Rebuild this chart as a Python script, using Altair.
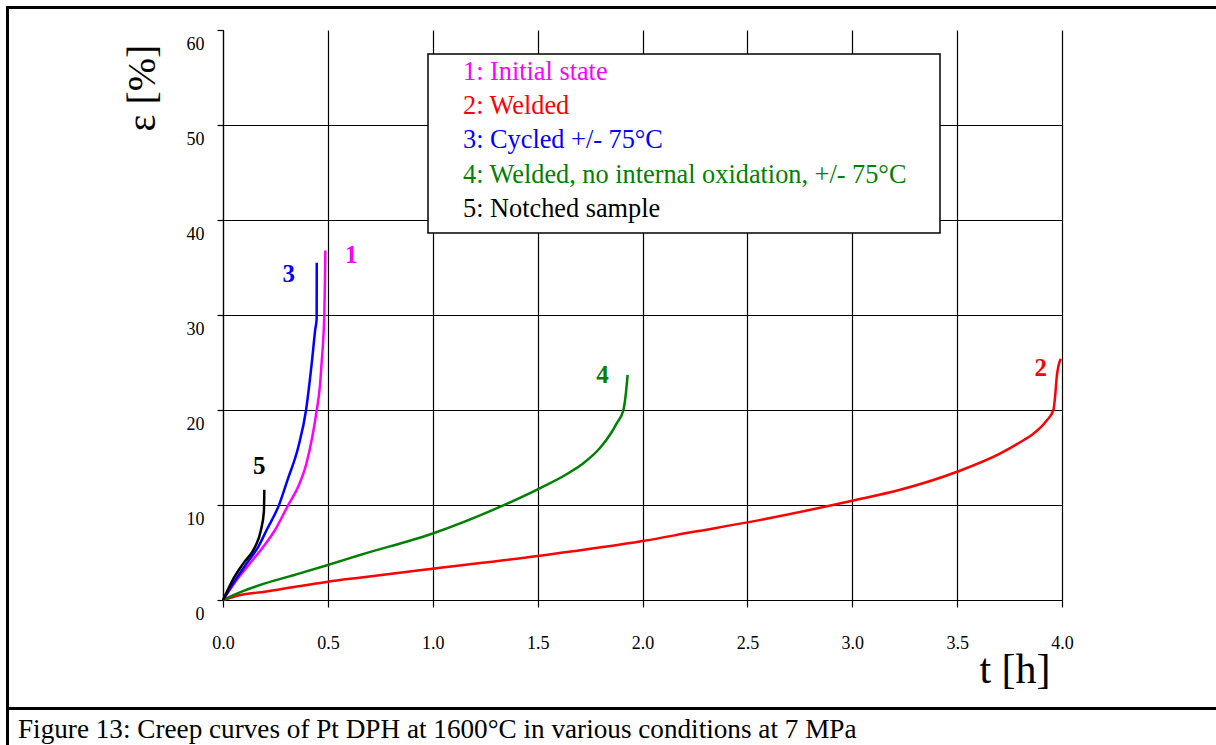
import altair as alt
import pandas as pd

# ---------------- data ----------------
series_ids = ["1", "2", "3", "4", "5"]
legend_texts = [
    "1: Initial state",
    "2: Welded",
    "3: Cycled +/- 75°C",
    "4: Welded, no internal oxidation, +/- 75°C",
    "5: Notched sample",
]
colors = ["#ff00ff", "#ff0000", "#0000ff", "#008000", "#000000"]

# curve 1: initial state
t1 = [0.0, 0.065, 0.129, 0.192, 0.248, 0.311, 0.360, 0.398, 0.426, 0.447, 0.462, 0.470, 0.478, 0.483, 0.486, 0.488]
e1 = [0.0, 2.1, 3.86, 5.6, 7.37, 10.0, 12.0, 14.4, 17.2, 20.0, 22.5, 24.9, 27.5, 30.0, 33.5, 36.8]
# curve 2: welded
t2 = [0.0, 0.089, 0.2, 0.5, 0.65, 1.0, 1.5, 2.0, 2.25, 2.5, 3.0, 3.228, 3.5, 3.704, 3.8, 3.863, 3.927, 3.959, 3.967, 3.975, 3.994]
e2 = [0.0, 0.55, 0.88, 1.93, 2.35, 3.3, 4.63, 6.2, 7.2, 8.17, 10.45, 11.6, 13.5, 15.4, 16.6, 17.5, 18.9, 20.0, 21.4, 23.5, 25.4]
# curve 3: cycled
t3 = [0.0, 0.049, 0.113, 0.168, 0.208, 0.267, 0.307, 0.359, 0.396, 0.423, 0.440, 0.4465, 0.447]
e3 = [0.0, 1.75, 3.86, 5.6, 7.37, 10.0, 12.6, 16.1, 20.0, 24.9, 28.5, 29.6, 35.5]
# curve 4: welded, no internal oxidation
t4 = [0.0, 0.089, 0.2, 0.35, 0.5, 0.653, 1.0, 1.32, 1.5, 1.65, 1.718, 1.797, 1.845, 1.877, 1.909, 1.921, 1.929]
e4 = [0.0, 0.88, 1.75, 2.7, 3.68, 4.74, 7.0, 9.8, 11.65, 13.4, 14.4, 16.0, 17.4, 18.6, 20.0, 21.8, 23.7]
# curve 5: notched sample
t5 = [0.0, 0.046, 0.097, 0.153, 0.181, 0.195, 0.197]
e5 = [0.0, 2.1, 3.86, 5.6, 7.37, 9.3, 11.6]

x_ticks = [0.0, 0.5, 1.0, 1.5, 2.0, 2.5, 3.0, 3.5, 4.0]
y_ticks = [0, 10, 20, 30, 40, 50, 60]

x_title = "t [h]"
y_title = "ε [%]"
caption = "Figure 13: Creep curves of Pt DPH at 1600°C in various conditions at 7 MPa"

# ---------------- build tables ----------------
curves = {"1": (t1, e1), "2": (t2, e2), "3": (t3, e3), "4": (t4, e4), "5": (t5, e5)}
draw_order = ["2", "4", "1", "3", "5"]
rows = []
for sid in draw_order:
    ts, es = curves[sid]
    for i, (t, e) in enumerate(zip(ts, es)):
        rows.append({"curve": sid, "t": t, "e": e, "i": i})
df = pd.DataFrame(rows)

# ---------------- layout ----------------
W, H = 839, 570
LEFT, TOP = 223, 30
SERIF = "Liberation Serif"

x_scale = alt.Scale(domain=[0, 4], nice=False, zero=False)
y_scale = alt.Scale(domain=[0, 60], nice=False, zero=False)

x_axis = alt.Axis(
    values=x_ticks, format=".1f", title=None, grid=True,
    gridColor="black", gridWidth=1.2, gridOpacity=1,
    domainColor="black", domainWidth=1.2, tickColor="black", tickSize=7, tickWidth=1.2,
    labelFont=SERIF, labelFontSize=18, labelColor="black", labelPadding=27,
    labelFlush=False, labelOverlap=False,
)
y_axis = alt.Axis(
    values=y_ticks, format="d", title=None, grid=True,
    gridColor="black", gridWidth=1.2,
    gridOpacity={"condition": {"test": "datum.value >= 60", "value": 0}, "value": 1},
    domainColor="black", domainWidth=1.2, tickColor="black", tickSize=6, tickWidth=1.2,
    labelFont=SERIF, labelFontSize=18, labelColor="black", labelPadding=13,
    labelOffset=14, labelFlush=False, labelOverlap=False,
)

color_scale = alt.Scale(domain=series_ids, range=colors)

lines = alt.Chart(df).mark_line(strokeWidth=2.5, interpolate="monotone").encode(
    x=alt.X("t:Q", scale=x_scale, axis=x_axis),
    y=alt.Y("e:Q", scale=y_scale, axis=y_axis),
    color=alt.Color("curve:N", scale=color_scale, legend=None),
    order=alt.Order("i:Q"),
)

one = pd.DataFrame({"k": [0]})

layers = [lines]

# curve end labels (number next to the end of each curve)
label_offsets = {"1": (26, 13), "2": (-20, 17), "3": (-28, 19), "4": (-25, 8), "5": (-5, -16)}
for sid, col in zip(series_ids, colors):
    ts, es = curves[sid]
    dx, dy = label_offsets[sid]
    end = pd.DataFrame({"t": [ts[-1]], "e": [es[-1]], "lab": [sid]})
    layers.append(
        alt.Chart(end).mark_text(
            font=SERIF, fontSize=25, fontWeight="bold", color=col, dx=dx, dy=dy,
            align="center", baseline="alphabetic",
        ).encode(
            x=alt.X("t:Q", scale=x_scale), y=alt.Y("e:Q", scale=y_scale), text=alt.Text("lab:N")
        )
    )

# legend box
layers.append(
    alt.Chart(one).mark_rect(fill="white", stroke="black", strokeWidth=1.5).encode(
        x=alt.value(428 - LEFT), x2=alt.value(940 - LEFT),
        y=alt.value(54 - TOP), y2=alt.value(233 - TOP),
    )
)
for k, (txt, col) in enumerate(zip(legend_texts, colors)):
    layers.append(
        alt.Chart(one).mark_text(
            font=SERIF, fontSize=26.3, color=col, align="left", baseline="alphabetic",
        ).encode(x=alt.value(463 - LEFT), y=alt.value(80 + 34.2 * k - TOP), text=alt.value(txt))
    )

# axis titles
layers.append(
    alt.Chart(one).mark_text(
        font=SERIF, fontSize=40, color="black", angle=270, align="center", baseline="alphabetic",
    ).encode(x=alt.value(155 - LEFT), y=alt.value(88 - TOP), text=alt.value(y_title))
)
layers.append(
    alt.Chart(one).mark_text(
        font=SERIF, fontSize=42, color="black", align="center", baseline="alphabetic",
    ).encode(x=alt.value(1015 - LEFT), y=alt.value(683 - TOP), text=alt.value(x_title))
)

# outer frame (top and left edges) and caption separator
layers.append(
    alt.Chart(one).mark_rule(color="black", strokeWidth=3).encode(
        x=alt.value(6 - LEFT), x2=alt.value(1300 - LEFT), y=alt.value(7.5 - TOP),
    )
)
layers.append(
    alt.Chart(one).mark_rule(color="black", strokeWidth=3).encode(
        x=alt.value(7.5 - LEFT), y=alt.value(6 - TOP), y2=alt.value(800 - TOP),
    )
)
layers.append(
    alt.Chart(one).mark_rule(color="black", strokeWidth=3).encode(
        x=alt.value(7.5 - LEFT), x2=alt.value(1300 - LEFT), y=alt.value(708.5 - TOP),
    )
)
layers.append(
    alt.Chart(one).mark_text(
        font=SERIF, fontSize=27.2, color="black", align="left", baseline="alphabetic",
    ).encode(x=alt.value(18 - LEFT), y=alt.value(738 - TOP), text=alt.value(caption))
)

chart = alt.layer(*layers).properties(
    width=W, height=H,
    autosize=alt.AutoSizeParams(type="none"),
    padding={"left": LEFT, "top": TOP, "right": 1216 - LEFT - W, "bottom": 745 - TOP - H},
    background="white",
).configure_view(strokeWidth=0)

chart.save("out.html", embed_options={"renderer": "svg", "actions": False})
